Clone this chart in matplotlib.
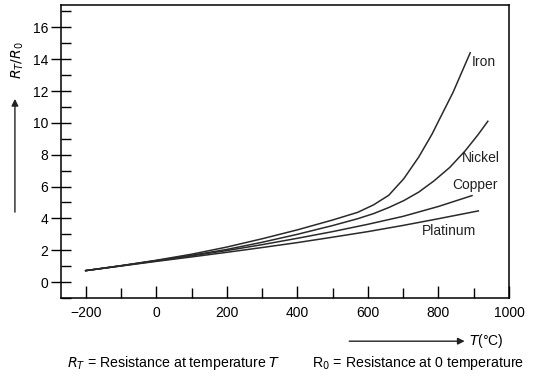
import matplotlib.pyplot as plt
from matplotlib.ticker import MultipleLocator

plt.rcParams['font.family'] = ['Liberation Sans', 'DejaVu Sans']

# temperature (deg C) and R_T/R_0
temp_iron = [-200, -100, 0, 100, 200, 300, 400, 500, 571, 616, 659, 702, 744, 782, 800, 841, 890]
ratio_iron = [0.72, 1.03, 1.37, 1.75, 2.2, 2.72, 3.28, 3.9, 4.38, 4.85, 5.45, 6.5, 7.85, 9.3, 10.1, 11.9, 14.4]

temp_nickel = [-200, -100, 0, 100, 200, 300, 400, 500, 571, 616, 659, 702, 744, 787, 832, 876, 912, 940]
ratio_nickel = [0.72, 1.03, 1.35, 1.68, 2.05, 2.5, 3.0, 3.55, 3.98, 4.3, 4.68, 5.12, 5.65, 6.35, 7.2, 8.25, 9.25, 10.1]

temp_copper = [-200, -100, 0, 100, 200, 300, 400, 500, 600, 700, 800, 895]
ratio_copper = [0.72, 1.02, 1.33, 1.65, 1.98, 2.35, 2.75, 3.17, 3.63, 4.13, 4.75, 5.43]

temp_platinum = [-200, -100, 0, 100, 200, 300, 400, 500, 600, 700, 800, 913]
ratio_platinum = [0.72, 1.01, 1.3, 1.58, 1.87, 2.17, 2.48, 2.82, 3.17, 3.56, 3.98, 4.47]

labels = ['Iron', 'Nickel', 'Copper', 'Platinum']
label_x = [893, 866, 838, 752]
label_y = [13.8, 7.8, 6.1, 3.2]


fig = plt.figure(figsize=(5.33, 3.77), dpi=100)
ax = fig.add_axes([0.1144, 0.2095, 0.8406, 0.7772])

for t, r in [(temp_iron, ratio_iron), (temp_nickel, ratio_nickel),
             (temp_copper, ratio_copper), (temp_platinum, ratio_platinum)]:
    ax.plot(t, r, color='#2a2a2a', lw=1.1)

ax.set_xlim(-270, 1000)
ax.set_ylim(-1.0, 17.4)

ax.xaxis.set_minor_locator(MultipleLocator(100))
ax.yaxis.set_minor_locator(MultipleLocator(1))
ax.set_xticks(range(-200, 1001, 200))
ax.set_xticklabels(['\u2212200', '0', '200', '400', '600', '800', '1000'])
ax.set_yticks(range(0, 17, 2))

ax.tick_params(axis='x', which='major', direction='in', length=9, width=1, labelsize=10, pad=6)
ax.tick_params(axis='x', which='minor', direction='in', length=7, width=1)
ax.tick_params(axis='y', which='major', direction='inout', length=14, width=1, labelsize=10, pad=2)
ax.tick_params(axis='y', which='minor', direction='in', length=7, width=1)
for s in ax.spines.values():
    s.set_linewidth(1.1)

# curve names
for name, lx, ly in zip(labels, label_x, label_y):
    ax.text(lx, ly, name, fontsize=10, va='center', color='#222222')

# axis labels with arrows, as in the original drawing
fig.text(0.033, 0.84, r'$R_T/R_0$', rotation=90, fontsize=10, ha='center', va='center')
fig.add_artist(plt.Annotation('', xy=(0.028, 0.745), xytext=(0.028, 0.43),
                              xycoords='figure fraction',
                              arrowprops=dict(arrowstyle='-|>', color='#222222', lw=1)))
fig.text(0.88, 0.095, r'$T$(°C)', fontsize=10, ha='left', va='center')
fig.add_artist(plt.Annotation('', xy=(0.877, 0.095), xytext=(0.65, 0.095),
                              xycoords='figure fraction',
                              arrowprops=dict(arrowstyle='-|>', color='#222222', lw=1)))

fig.text(0.125, 0.037, r'$R_T$ = Resistance at temperature $T$', fontsize=10.2, va='center')
fig.text(0.585, 0.037, r'R$_0$ = Resistance at 0 temperature', fontsize=10.2, va='center')

fig.savefig('out.png', dpi=100)
